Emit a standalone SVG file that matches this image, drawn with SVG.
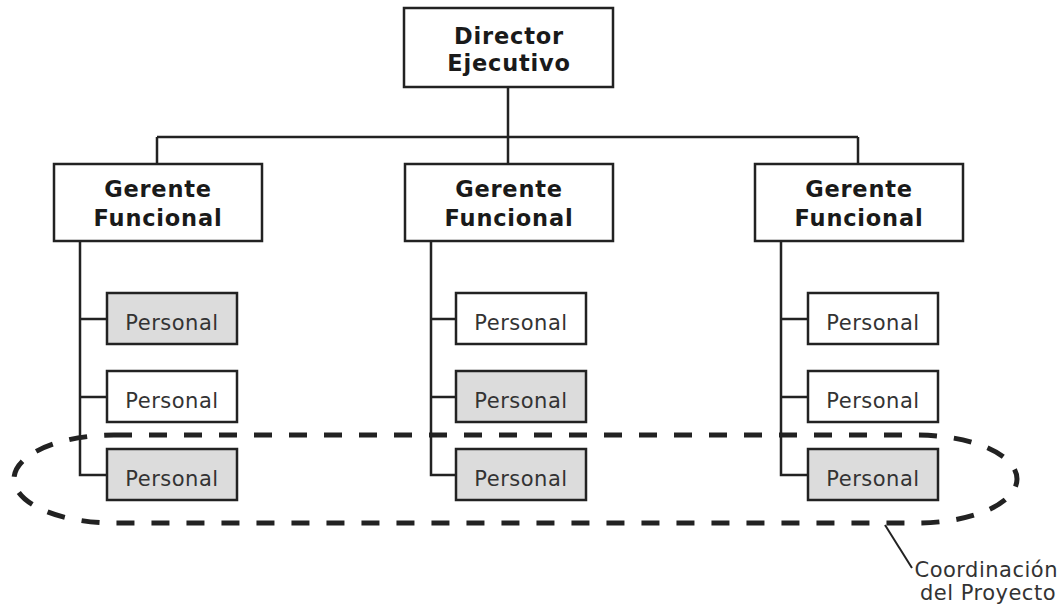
<svg xmlns="http://www.w3.org/2000/svg" width="1061" height="604" viewBox="0 0 1061 604">
<style>
.box{fill:#fff;stroke:#222;stroke-width:2.5}
.gray{fill:#dcdcdc;stroke:#222;stroke-width:2.5}
.b{font-family:"DejaVu Sans",sans-serif;font-weight:bold;font-size:22.5px;fill:#1a1a1a;text-anchor:middle;letter-spacing:0.8px}
.p{font-family:"DejaVu Sans",sans-serif;font-size:21px;fill:#333;text-anchor:middle;letter-spacing:0.5px}
.c{font-family:"DejaVu Sans",sans-serif;font-size:21px;fill:#333;text-anchor:end;letter-spacing:0.5px}
.ln{fill:none;stroke:#222;stroke-width:2.5}
</style>
<rect width="1061" height="604" fill="#fff"/>
<g id="connectors" class="ln">
<path d="M508 87V164M157 137H858M157 137V164M858 137V164"/>
<path d="M80 241V475H107M80 319H107M80 397H107"/>
<path d="M431 241V475H456M431 319H456M431 397H456"/>
<path d="M781 241V475H808M781 319H808M781 397H808"/>
<path d="M885 525L912 568" stroke-width="2"/>
</g>
<g id="director"><rect class="box" x="404" y="8" width="209" height="79"/><text class="b" x="509" y="44">Director</text><text class="b" x="509" y="71">Ejecutivo</text></g>
<g id="gerente1"><rect class="box" x="54" y="164" width="208" height="77"/><text class="b" x="158" y="197">Gerente</text><text class="b" x="158" y="226">Funcional</text></g>
<g id="gerente2"><rect class="box" x="405" y="164" width="208" height="77"/><text class="b" x="509" y="197">Gerente</text><text class="b" x="509" y="226">Funcional</text></g>
<g id="gerente3"><rect class="box" x="755" y="164" width="208" height="77"/><text class="b" x="859" y="197">Gerente</text><text class="b" x="859" y="226">Funcional</text></g>
<g id="p11"><rect class="gray" x="107" y="293" width="130" height="51"/><text class="p" x="172" y="330">Personal</text></g>
<g id="p12"><rect class="box" x="107" y="371" width="130" height="51"/><text class="p" x="172" y="408">Personal</text></g>
<g id="p13"><rect class="gray" x="107" y="449" width="130" height="51"/><text class="p" x="172" y="486">Personal</text></g>
<g id="p21"><rect class="box" x="456" y="293" width="130" height="51"/><text class="p" x="521" y="330">Personal</text></g>
<g id="p22"><rect class="gray" x="456" y="371" width="130" height="51"/><text class="p" x="521" y="408">Personal</text></g>
<g id="p23"><rect class="gray" x="456" y="449" width="130" height="51"/><text class="p" x="521" y="486">Personal</text></g>
<g id="p31"><rect class="box" x="808" y="293" width="130" height="51"/><text class="p" x="873" y="330">Personal</text></g>
<g id="p32"><rect class="box" x="808" y="371" width="130" height="51"/><text class="p" x="873" y="408">Personal</text></g>
<g id="p33"><rect class="gray" x="808" y="449" width="130" height="51"/><text class="p" x="873" y="486">Personal</text></g>
<g id="coordinacion">
<rect x="14" y="435" width="1003" height="88" rx="100" ry="44" fill="none" stroke="#222" stroke-width="5" stroke-dasharray="18 17"/>
<text class="c" x="1058" y="577">Coordinación</text>
<text class="c" x="1056" y="600">del Proyecto</text>
</g>
</svg>
